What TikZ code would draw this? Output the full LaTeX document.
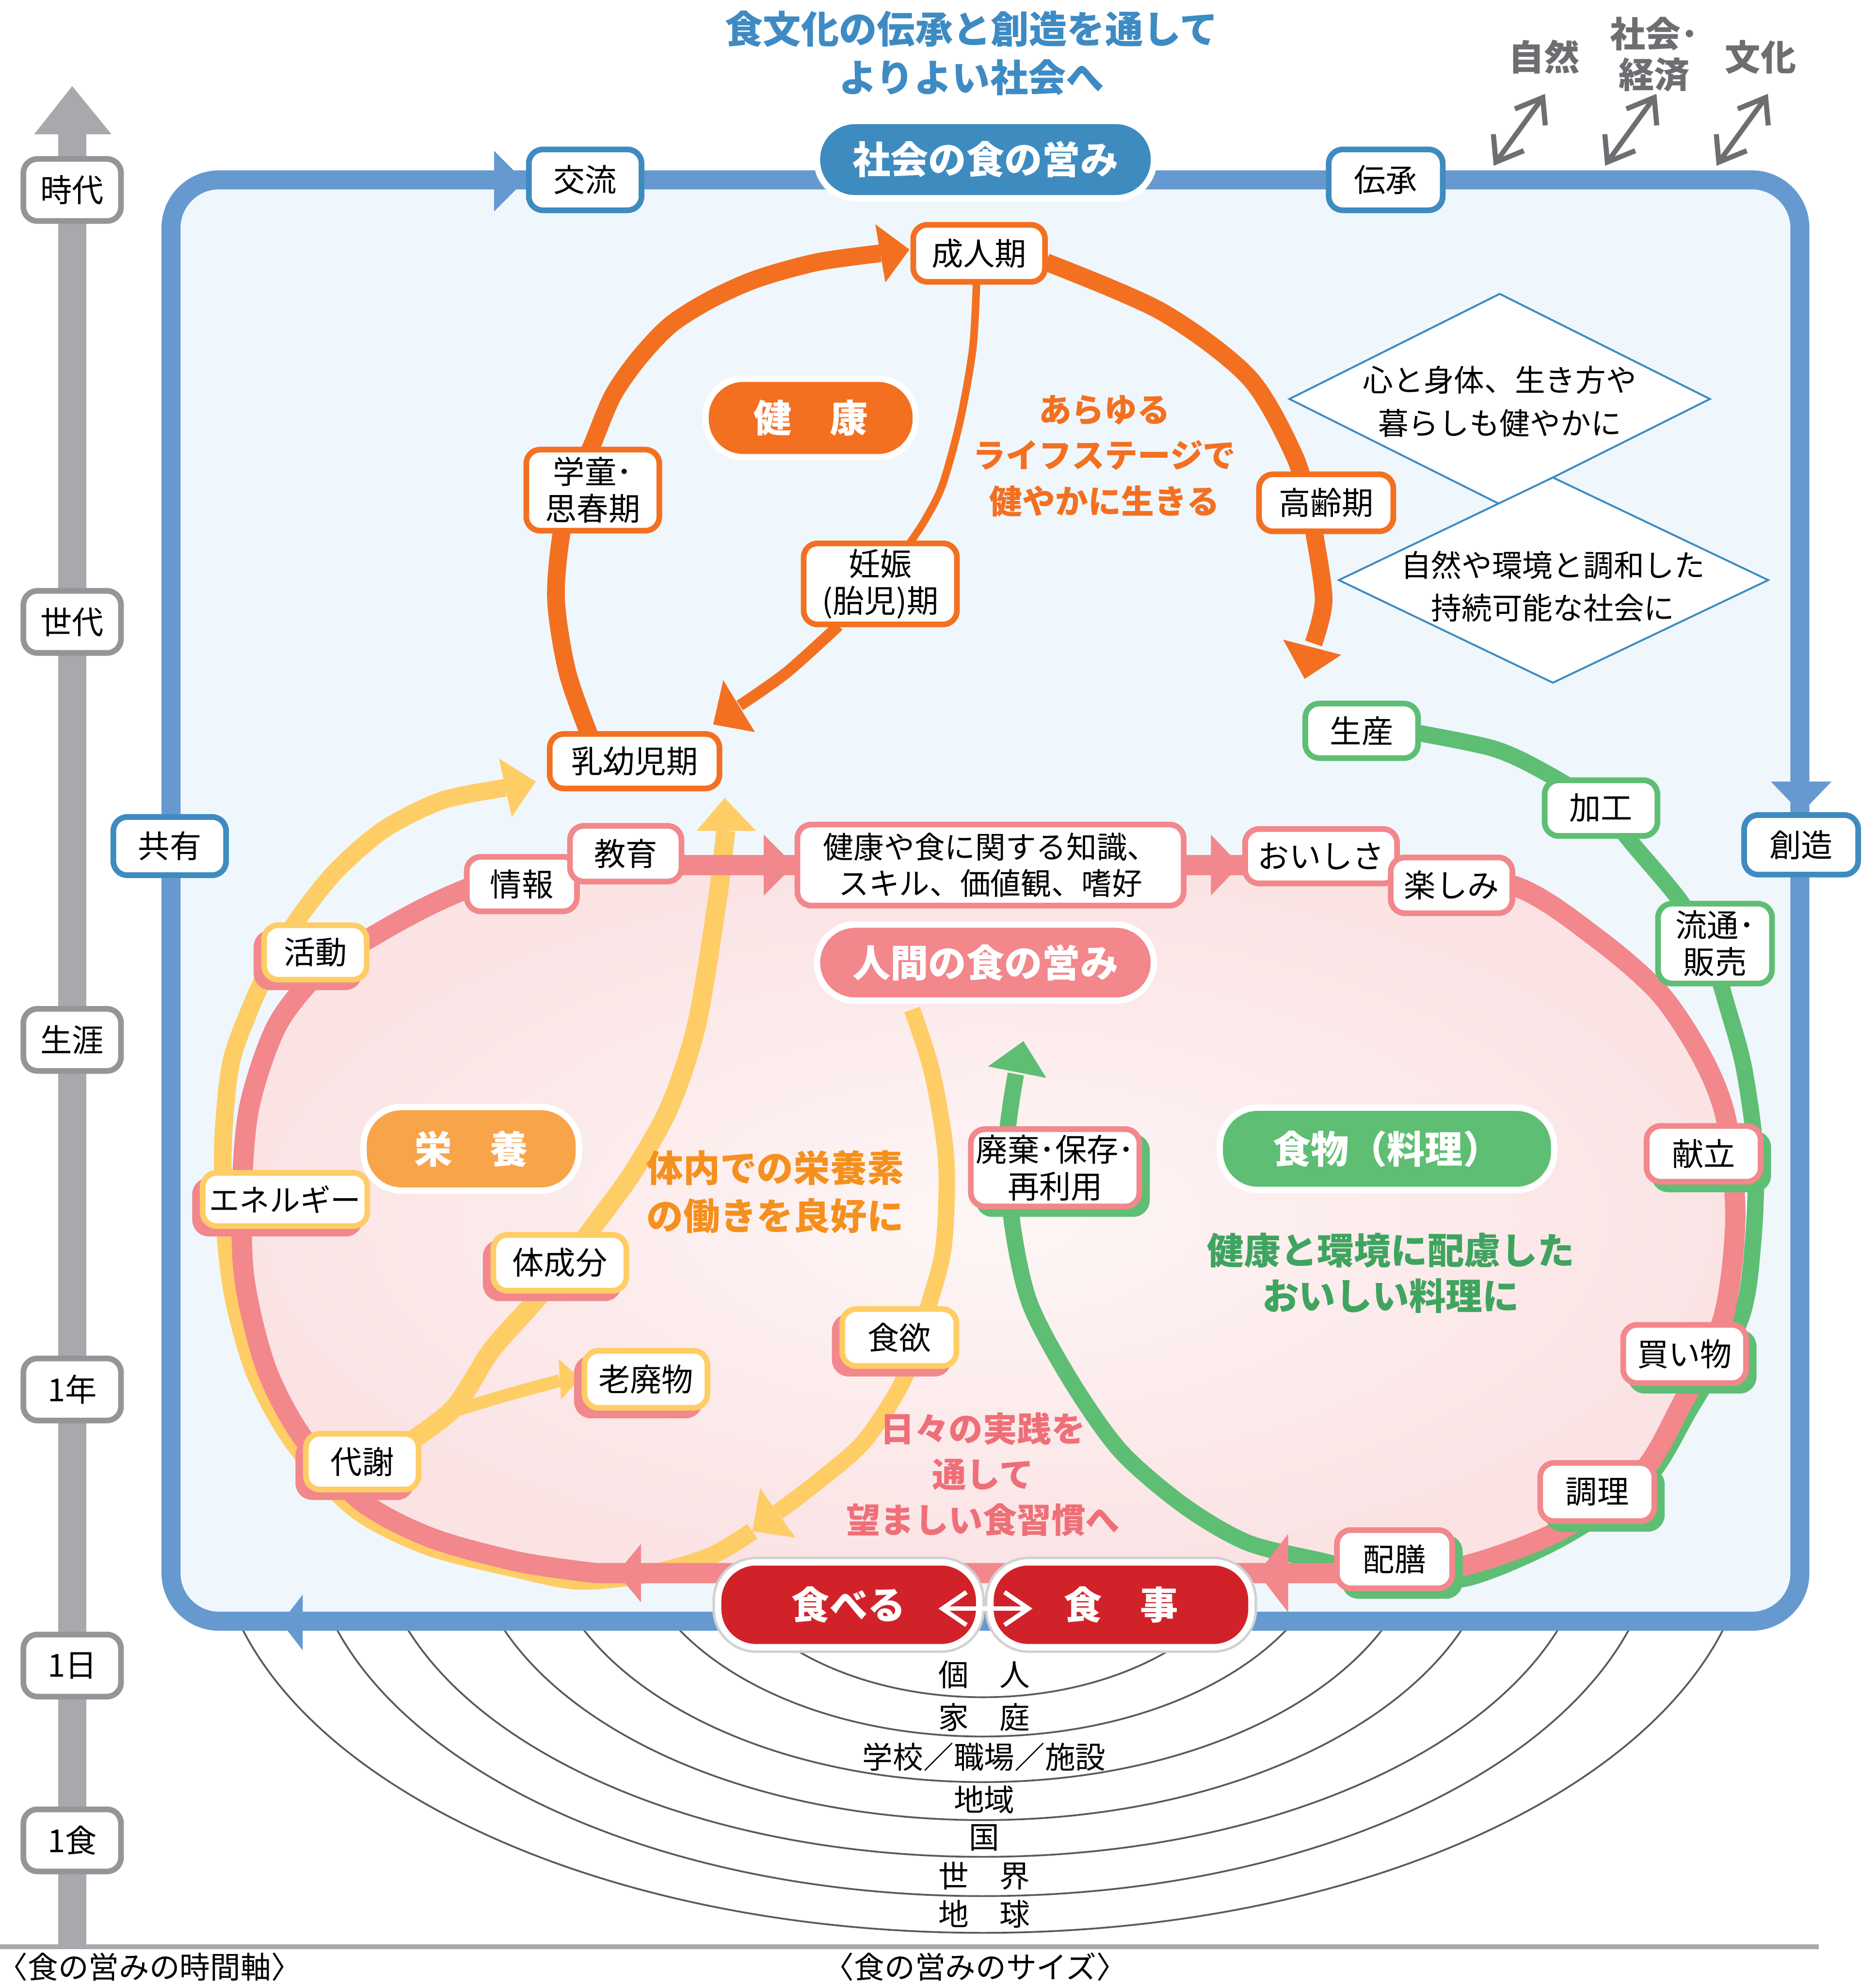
\documentclass[tikz,border=0pt]{standalone}
\usepackage{fontspec}
\setmainfont{Noto Sans CJK JP}
\usetikzlibrary{calc}
\definecolor{cOrange}{HTML}{F37021}
\definecolor{cOrangeL}{HTML}{F8A54A}
\definecolor{cOrangeT}{HTML}{F5901E}
\definecolor{cYellow}{HTML}{FFCD66}
\definecolor{cPink}{HTML}{F2878C}
\definecolor{cPinkT}{HTML}{EF6F78}
\definecolor{cPinkIn}{HTML}{FEF6F6}
\definecolor{cPinkOut}{HTML}{FBE3E4}
\definecolor{cGreen}{HTML}{5EBE73}
\definecolor{cGreenT}{HTML}{3FA45F}
\definecolor{cRed}{HTML}{D1222A}
\definecolor{cBlueD}{HTML}{3E8BC0}
\definecolor{cBlueF}{HTML}{6699CF}
\definecolor{cBlueBg}{HTML}{EFF7FD}
\definecolor{cGrayA}{HTML}{A7A9AC}
\definecolor{cGrayB}{HTML}{939598}
\definecolor{cGrayT}{HTML}{6D6E71}
\definecolor{cTitle}{HTML}{3E8BC4}
\definecolor{cArc}{HTML}{5A5A5A}
\tikzset{
  lbl/.style={draw, line width=4.5pt, fill=white, rounded corners=11pt, inner sep=0pt, align=center, text=black, font={\fontsize{25}{29}\selectfont}},
  lblO/.style={lbl, draw=cOrange},
  lblB/.style={lbl, draw=cBlueD},
  lblG/.style={lbl, draw=cGrayB},
  lblGr/.style={lbl, draw=cGreen},
  lblP/.style={lbl, draw=cPink},
  lblY/.style={lbl, draw=cYellow},
  sz/.style 2 args={minimum width=#1pt, minimum height=#2pt},
  shP/.style={preaction={draw=cPink, fill=cPink, line width=4.5pt, transform canvas={xshift=-6pt,yshift=-6pt}}},
  shG/.style={preaction={draw=cGreen, fill=cGreen, line width=4.5pt, transform canvas={xshift=6pt,yshift=-6pt}}},
  pillS/.style={draw=white, line width=5pt, rounded corners=30pt, text=white, font={\bfseries\fontsize{30}{36}\selectfont}, inner sep=0pt},
  band/.style={line width=#1, line join=round},
}
\def\pinkpath{(440,683) -- (1100,683) -- plot[smooth] coordinates {(1100,683) (1197,700) (1261,741) (1311,785) (1345,837) (1363,885) (1370,963) (1360,1042) (1327,1110) (1294,1165) (1228,1210) (1153,1237) (1090,1242)} -- (470,1242) -- plot[smooth] coordinates {(470,1242) (409,1233) (340,1214) (285,1185) (239,1135) (210,1080) (193,1010) (191,940) (197,873) (219,809) (255,765) (305,733) (349,710) (400,690) (440,683)} -- cycle}
\begin{document}
\begin{tikzpicture}[x=1pt,y=-1pt]
\useasboundingbox (0,0) rectangle (1481,1568);
\fill[white] (0,0) rectangle (1481,1568);

% time axis
\fill[cGrayA] (46,104) rectangle (68,1537);
\fill[cGrayA] (27,106) -- (57,68) -- (88,106) -- cycle;
\draw[cGrayA, line width=4pt] (0,1537) -- (1436,1537);

% size arcs
\begin{scope}
\clip (0,1285) rectangle (1481,1568);
\foreach \a/\b in {217/140, 278/171, 347/207, 406/237, 480/266, 533/297, 606/326}
  \draw[cArc, line width=1.4pt] (776,1200) ellipse [x radius=\a pt, y radius=\b pt];
\end{scope}

% frame
\draw[cBlueF, line width=15pt, fill=cBlueBg, rounded corners=38pt] (135,142) rectangle (1421,1280);
\fill[cBlueF] (390,119) -- (414,143) -- (390,167) -- cycle;
\fill[cBlueF] (1398,617) -- (1422,642) -- (1446,617) -- cycle;
\fill[cBlueF] (239,1259) -- (222,1281) -- (239,1303) -- cycle;

% diamonds
\draw[cBlueD, line width=1.5pt, fill=white] (1184,232) -- (1350,315) -- (1184,398) -- (1018,315) -- cycle;
\draw[cBlueD, line width=1.5pt, fill=white] (1226,377) -- (1396,458) -- (1226,539) -- (1057,458) -- cycle;
\node[font={\fontsize{24}{34}\selectfont}, align=center] (dia1) at (1184,317) {心と身体、生き方や\\暮らしも健やかに};
\node[font={\fontsize{24}{34}\selectfont}, align=center] (dia2) at (1226,463) {自然や環境と調和した\\持続可能な社会に};

% pink region fill
\shade[inner color=cPinkIn, outer color=cPinkOut] \pinkpath;

% green path
\draw[cGreen, band=13pt] plot[smooth] coordinates {(1110,577) (1179,591) (1222,611) (1264,638) (1292,670) (1327,712) (1350,752) (1364,796) (1377,844) (1386,912) (1384,981) (1374,1042) (1334,1113) (1299,1169) (1232,1215) (1158,1246) (1100,1245) (1042,1232) (985,1218) (935,1189) (885,1146) (846,1091) (813,1029) (799,965) (795,900) (802,848)};

% yellow paths
\draw[cYellow, band=14pt] plot[smooth] coordinates {(594,1209) (560,1229) (510,1243) (456,1248) (405,1238) (338,1221) (281,1192) (233,1141) (202,1086) (185,1028) (178,975) (176,905) (182,841) (196,800) (212,765) (235,726) (265,688) (303,655) (349,632) (399,622)};
\draw[cYellow, band=13pt] plot[smooth] coordinates {(720,797) (736,847) (747,915) (745,984) (733,1031) (714,1088) (683,1137) (648,1168) (614,1194)};
\draw[cYellow, band=15pt] plot[smooth] coordinates {(318,1142) (358,1112) (388,1066) (420,1030) (445,1000) (468,969) (500,925) (529,873) (550,809) (566,713) (573,656)};
\draw[cYellow, band=10pt] plot[smooth] coordinates {(352,1116) (398,1102) (442,1090)};

% pink band
\draw[cPink, band=16pt] \pinkpath;

% orange paths
\draw[cOrange, band=14pt] plot[smooth] coordinates {(466,582) (448,531) (439,474) (443,423) (453,385) (468,350) (484,312) (505,282) (530,256) (562,236) (598,220) (645,207) (695,200)};
\draw[cOrange, band=14pt] plot[smooth] coordinates {(826,207) (917,246) (986,298) (1022,360) (1033,400) (1038,423) (1045,474) (1037,508)};
\draw[cOrange, band=6pt] plot[smooth] coordinates {(771,222) (768,275) (758,332) (744,383) (730,411) (716,432)};
\draw[cOrange, band=9pt] plot[smooth] coordinates {(662,494) (621,531) (584,557)};

% arrowheads
\fill[cOrange] (691,177) -- (718,197) -- (699,223) -- cycle;
\fill[cOrange] (1013,505) -- (1030,536) -- (1059,517) -- cycle;
\fill[cOrange] (571,537) -- (563,572) -- (596,578) -- cycle;
\fill[cYellow] (394,599) -- (423,617) -- (404,645) -- cycle;
\fill[cYellow] (550,656) -- (572,630) -- (597,656) -- cycle;
\fill[cYellow] (441,1073) -- (458,1088) -- (443,1105) -- cycle;
\fill[cYellow] (600,1175) -- (594,1209) -- (628,1214) -- cycle;
\fill[cPink] (603,659) -- (627,683) -- (603,707) -- cycle;
\fill[cPink] (956,659) -- (979,683) -- (956,707) -- cycle;
\fill[cPink] (1017,1211) -- (993,1242) -- (1017,1273) -- cycle;
\fill[cPink] (506,1219) -- (487,1242) -- (506,1265) -- cycle;
\fill[cGreen] (780,842) -- (808,822) -- (826,851) -- cycle;

% time labels
\node[lblG, sz={77}{49}] (tJidai) at (57,150) {時代};
\node[lblG, sz={77}{49}] (tSedai) at (57,491) {世代};
\node[lblG, sz={77}{49}] (tShogai) at (57,821) {生涯};
\node[lblG, sz={77}{49}] (tNen) at (57,1097) {1年};
\node[lblG, sz={77}{49}] (tNichi) at (57,1315) {1日};
\node[lblG, sz={77}{49}] (tShoku) at (57,1453) {1食};

% frame labels
\node[lblB, sz={89}{48}] (koryu) at (462,142) {交流};
\node[lblB, sz={90}{48}] (densho) at (1094,142) {伝承};
\node[lblB, sz={90}{47}] (sozo) at (1422,667) {創造};
\node[lblB, sz={89}{46}] (kyoyu) at (134,668) {共有};

% health
\node[lblO, sz={104}{45}] (seijin) at (773,200) {成人期};
\node[lblO, sz={105}{64}] (gakudo) at (468,387) {学童･\\思春期};
\node[lblO, sz={121}{64}] (ninshin) at (695,461) {妊娠\\(胎児)期};
\node[lblO, sz={106}{45}] (korei) at (1047,397) {高齢期};
\node[lblO, sz={134}{43}] (nyuyoji) at (501,601) {乳幼児期};

% food production
\node[lblGr, sz={89}{43}] (seisan) at (1075,577) {生産};
\node[lblGr, sz={89}{44}] (kako) at (1264,638) {加工};
\node[lblGr, sz={90}{63}] (ryutsu) at (1354,745) {流通･\\販売};

% pink labels
\node[lblP, sz={87}{43}] (joho) at (412,698) {情報};
\node[lblP, sz={88}{44}] (kyoiku) at (494,674) {教育};
\node[lblP, sz={305}{64}, font={\fontsize{24}{29}\selectfont}] (chishiki) at (782,683) {健康や食に関する知識、\\スキル、価値観、嗜好};
\node[lblP, sz={120}{43}] (oishisa) at (1043,676) {おいしさ};
\node[lblP, sz={96}{44}] (tanoshimi) at (1146,699) {楽しみ};
\node[lblP, shG, sz={90}{44}] (kondate) at (1345,911) {献立};
\node[lblP, shG, sz={97}{46}] (kaimono) at (1330,1069) {買い物};
\node[lblP, shG, sz={90}{46}] (chori) at (1261,1178) {調理};
\node[lblP, shG, sz={91}{46}] (haizen) at (1101,1231) {配膳};
\node[lblP, shG, sz={133}{61}] (haiki) at (833,922) {廃棄･保存･\\再利用};

% yellow labels
\node[lblY, shP, sz={81}{43}] (katsudo) at (249,752) {活動};
\node[lblY, shP, sz={130}{42}, font={\fontsize{24}{29}\selectfont}] (energy) at (225,947) {エネルギー};
\node[lblY, shP, sz={105}{44}] (taiseibun) at (442,997) {体成分};
\node[lblY, shP, sz={97}{45}] (rohaibutsu) at (510,1089) {老廃物};
\node[lblY, shP, sz={89}{44}] (taisha) at (286,1154) {代謝};
\node[lblY, shP, sz={90}{45}] (shokuyoku) at (710,1056) {食欲};

% pills
\node[pillS, fill=cBlueD, sz={266}{61}] (shakai) at (778,126) {社会の食の営み};
\node[pillS, fill=cOrange, sz={166}{62}] (kenko) at (640,330) {健　康};
\node[pillS, fill=cPink, sz={266}{60}] (ningen) at (778,760) {人間の食の営み};
\node[pillS, fill=cOrangeL, sz={170}{66}] (eiyo) at (372,907) {栄　養};
\node[pillS, fill=cGreen, sz={264}{65}] (tabemono) at (1095,907) {食物（料理）};
\node[pillS, fill=cRed, sz={206}{67}, preaction={draw=black!18, line width=9pt}] (taberu) at (670,1267) {食べる};
\node[pillS, fill=cRed, sz={206}{67}, preaction={draw=black!18, line width=9pt}] (shokuji) at (885,1267) {食　事};
\draw[white, line width=3.5pt] (744,1270) -- (812,1270);
\draw[white, line width=3.5pt, line join=miter] (763,1257) -- (744,1270) -- (763,1283);
\draw[white, line width=3.5pt, line join=miter] (793,1257) -- (812,1270) -- (793,1283);

% texts
\node[font={\bfseries\fontsize{30}{38}\selectfont}, text=cTitle, align=center] (title) at (767,42) {食文化の伝承と創造を通して\\よりよい社会へ};
\node[font={\bfseries\fontsize{28}{32}\selectfont}, text=cGrayT] (shizen) at (1219,45) {自然};
\node[font={\bfseries\fontsize{28}{32}\selectfont}, text=cGrayT, align=center] (shakaikeizai) at (1306,43) {社会･\\経済};
\node[font={\bfseries\fontsize{28}{32}\selectfont}, text=cGrayT] (bunka) at (1390,45) {文化};
\foreach \dx in {0,88,176} {
  \draw[cGrayT, line width=4pt] ({1181+\dx},128) -- ({1218+\dx},77);
  \draw[cGrayT, line width=4pt, line join=miter] ({1196+\dx},86) -- ({1218+\dx},77) -- ({1220+\dx},99);
  \draw[cGrayT, line width=4pt, line join=miter] ({1203+\dx},119) -- ({1181+\dx},128) -- ({1179+\dx},106);
}
\node[font={\bfseries\fontsize{26}{36}\selectfont}, text=cOrange, align=center] (lifestage) at (872,360) {あらゆる\\ライフステージで\\健やかに生きる};
\node[font={\bfseries\fontsize{29}{38}\selectfont}, text=cOrangeT, align=center] (eiyotxt) at (612,941) {体内での栄養素\\の働きを良好に};
\node[font={\bfseries\fontsize{29}{36}\selectfont}, text=cGreenT, align=center] (ryoritxt) at (1098,1005) {健康と環境に配慮した\\おいしい料理に};
\node[font={\bfseries\fontsize{27}{36}\selectfont}, text=cPinkT, align=center] (jissen) at (776,1164) {日々の実践を\\通して\\望ましい食習慣へ};

% size labels
\node[font={\fontsize{24}{28}\selectfont}] (kojin) at (777,1322) {個　人};
\node[font={\fontsize{24}{28}\selectfont}] (katei) at (777,1356) {家　庭};
\node[font={\fontsize{24}{28}\selectfont}] (gakko) at (777,1387) {学校／職場／施設};
\node[font={\fontsize{24}{28}\selectfont}] (chiiki) at (777,1421) {地域};
\node[font={\fontsize{24}{28}\selectfont}] (kuni) at (777,1451) {国};
\node[font={\fontsize{24}{28}\selectfont}] (sekai) at (777,1481) {世　界};
\node[font={\fontsize{24}{28}\selectfont}] (chikyu) at (777,1511) {地　球};
\node[font={\fontsize{24}{28}\selectfont}] (jikanjiku) at (118,1553) {〈食の営みの時間軸〉};
\node[font={\fontsize{24}{28}\selectfont}] (size) at (770,1553) {〈食の営みのサイズ〉};
\end{tikzpicture}
\end{document}
